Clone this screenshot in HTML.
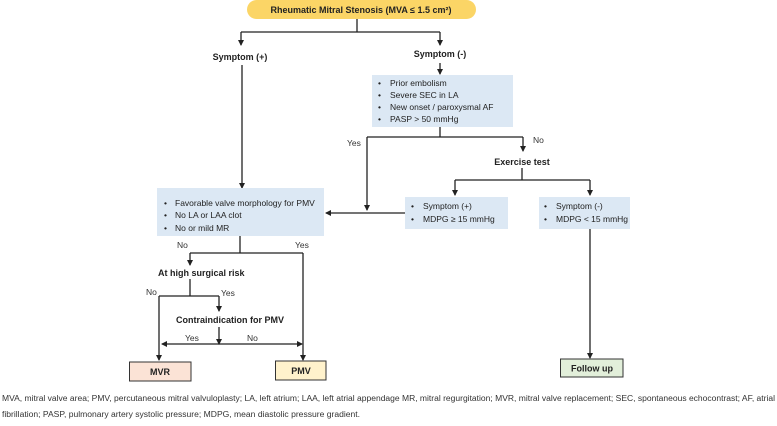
<!DOCTYPE html>
<html><head><meta charset="utf-8"><style>
html,body{margin:0;padding:0;background:#fff;width:777px;height:426px;overflow:hidden}
svg{display:block}
text{font-family:"Liberation Sans",Arial,sans-serif;fill:#222}
.b{font-weight:bold;font-size:9px}
.t{font-size:8.5px;fill:#333}
.s{font-size:8px;fill:#333}
</style></head><body>
<svg width="777" height="426" viewBox="0 0 777 426" xmlns="http://www.w3.org/2000/svg">
<defs><marker id="a" markerWidth="6" markerHeight="6" refX="5" refY="3" orient="auto" markerUnits="userSpaceOnUse"><path d="M0,0 L6,3 L0,6 z" fill="#222"/></marker></defs>
<g stroke="#222" stroke-width="1.3" fill="none">
<!-- top -->
<path d="M357 19 V32"/>
<path d="M241 32 H440"/>
<path d="M241 32 V45" marker-end="url(#a)"/>
<path d="M440 32 V45" marker-end="url(#a)"/>
<path d="M440 63 V74" marker-end="url(#a)"/>
<path d="M242 65 V188" marker-end="url(#a)"/>
<!-- box1 branch -->
<path d="M440 127 V137"/>
<path d="M367 137 H523"/>
<path d="M367 137 V210" marker-end="url(#a)"/>
<path d="M523 137 V151" marker-end="url(#a)"/>
<path d="M522 168 V180"/>
<path d="M455 180 H590"/>
<path d="M455 180 V195" marker-end="url(#a)"/>
<path d="M590 180 V195" marker-end="url(#a)"/>
<path d="M405 213 H326" marker-end="url(#a)"/>
<!-- left -->
<path d="M240 236 V253"/>
<path d="M190 253 H303"/>
<path d="M190 253 V265" marker-end="url(#a)"/>
<path d="M303 253 V360" marker-end="url(#a)"/>
<path d="M190 279 V296"/>
<path d="M159 296 H219"/>
<path d="M219 296 V311" marker-end="url(#a)"/>
<path d="M159 296 V360" marker-end="url(#a)"/>
<path d="M219 327 V344" marker-end="url(#a)"/>
<path d="M219 344 H162" marker-end="url(#a)"/>
<path d="M219 344 H302" marker-end="url(#a)"/>
<path d="M590 229 V358" marker-end="url(#a)"/>
</g>
<!-- top pill -->
<rect x="247" y="0" width="229" height="19" rx="9.5" fill="#fbd566"/>
<text x="361" y="13" class="b" text-anchor="middle" font-size="9.5">Rheumatic Mitral Stenosis (MVA ≤ 1.5 cm²)</text>
<text x="240" y="60" class="b" text-anchor="middle">Symptom (+)</text>
<text x="440" y="57" class="b" text-anchor="middle">Symptom (-)</text>
<!-- box1 -->
<rect x="372" y="75" width="141" height="52" fill="#dce8f4"/>
<g class="t"><text x="378" y="86">•</text><text x="390" y="86">Prior embolism</text>
<text x="378" y="98">•</text><text x="390" y="98">Severe  SEC in LA</text>
<text x="378" y="110">•</text><text x="390" y="110">New onset / paroxysmal AF</text>
<text x="378" y="122">•</text><text x="390" y="122">PASP &gt; 50 mmHg</text></g>
<text x="347" y="146" class="t">Yes</text>
<text x="533" y="143" class="t">No</text>
<text x="522" y="165" class="b" text-anchor="middle">Exercise test</text>
<!-- box2 / box3 -->
<rect x="405" y="197" width="103" height="32" fill="#dce8f4"/>
<g class="t"><text x="411" y="209">•</text><text x="423" y="209">Symptom (+)</text>
<text x="411" y="222">•</text><text x="423" y="222">MDPG ≥ 15 mmHg</text></g>
<rect x="539" y="197" width="91" height="32" fill="#dce8f4"/>
<g class="t"><text x="544" y="209">•</text><text x="556" y="209">Symptom (-)</text>
<text x="544" y="222">•</text><text x="556" y="222">MDPG &lt; 15 mmHg</text></g>
<!-- left box -->
<rect x="157" y="188" width="167" height="48" fill="#dce8f4"/>
<g class="t"><text x="164" y="206">•</text><text x="175" y="206">Favorable  valve  morphology  for PMV</text>
<text x="164" y="218">•</text><text x="175" y="218">No LA or LAA clot</text>
<text x="164" y="231">•</text><text x="175" y="231">No or mild MR</text></g>
<text x="177" y="248" class="t">No</text>
<text x="295" y="248" class="t">Yes</text>
<text x="158" y="276" class="b">At high surgical risk</text>
<text x="146" y="295" class="t">No</text>
<text x="221" y="296" class="t">Yes</text>
<text x="176" y="323" class="b">Contraindication for PMV</text>
<text x="185" y="341" class="t">Yes</text>
<text x="247" y="341" class="t">No</text>
<!-- terminals -->
<rect x="129.5" y="362" width="61.5" height="19" fill="#fbe3d6" stroke="#333" stroke-width="1"/>
<text x="160" y="375" class="b" text-anchor="middle">MVR</text>
<rect x="275.5" y="361" width="50.5" height="19" fill="#fff2cc" stroke="#333" stroke-width="1"/>
<text x="301" y="374" class="b" text-anchor="middle">PMV</text>
<rect x="560.5" y="359" width="62.5" height="18" fill="#e2efda" stroke="#333" stroke-width="1"/>
<text x="592" y="371.5" class="b" text-anchor="middle">Follow up</text>
<!-- caption -->
<text x="2" y="401" class="s" textLength="773" lengthAdjust="spacingAndGlyphs">MVA, mitral valve area; PMV, percutaneous mitral valvuloplasty; LA, left atrium; LAA, left atrial appendage MR, mitral regurgitation; MVR, mitral valve replacement; SEC, spontaneous echocontrast; AF, atrial</text>
<text x="2" y="417" class="s" textLength="358" lengthAdjust="spacingAndGlyphs">fibrillation; PASP, pulmonary artery systolic pressure; MDPG, mean diastolic pressure gradient.</text>
</svg>
</body></html>
